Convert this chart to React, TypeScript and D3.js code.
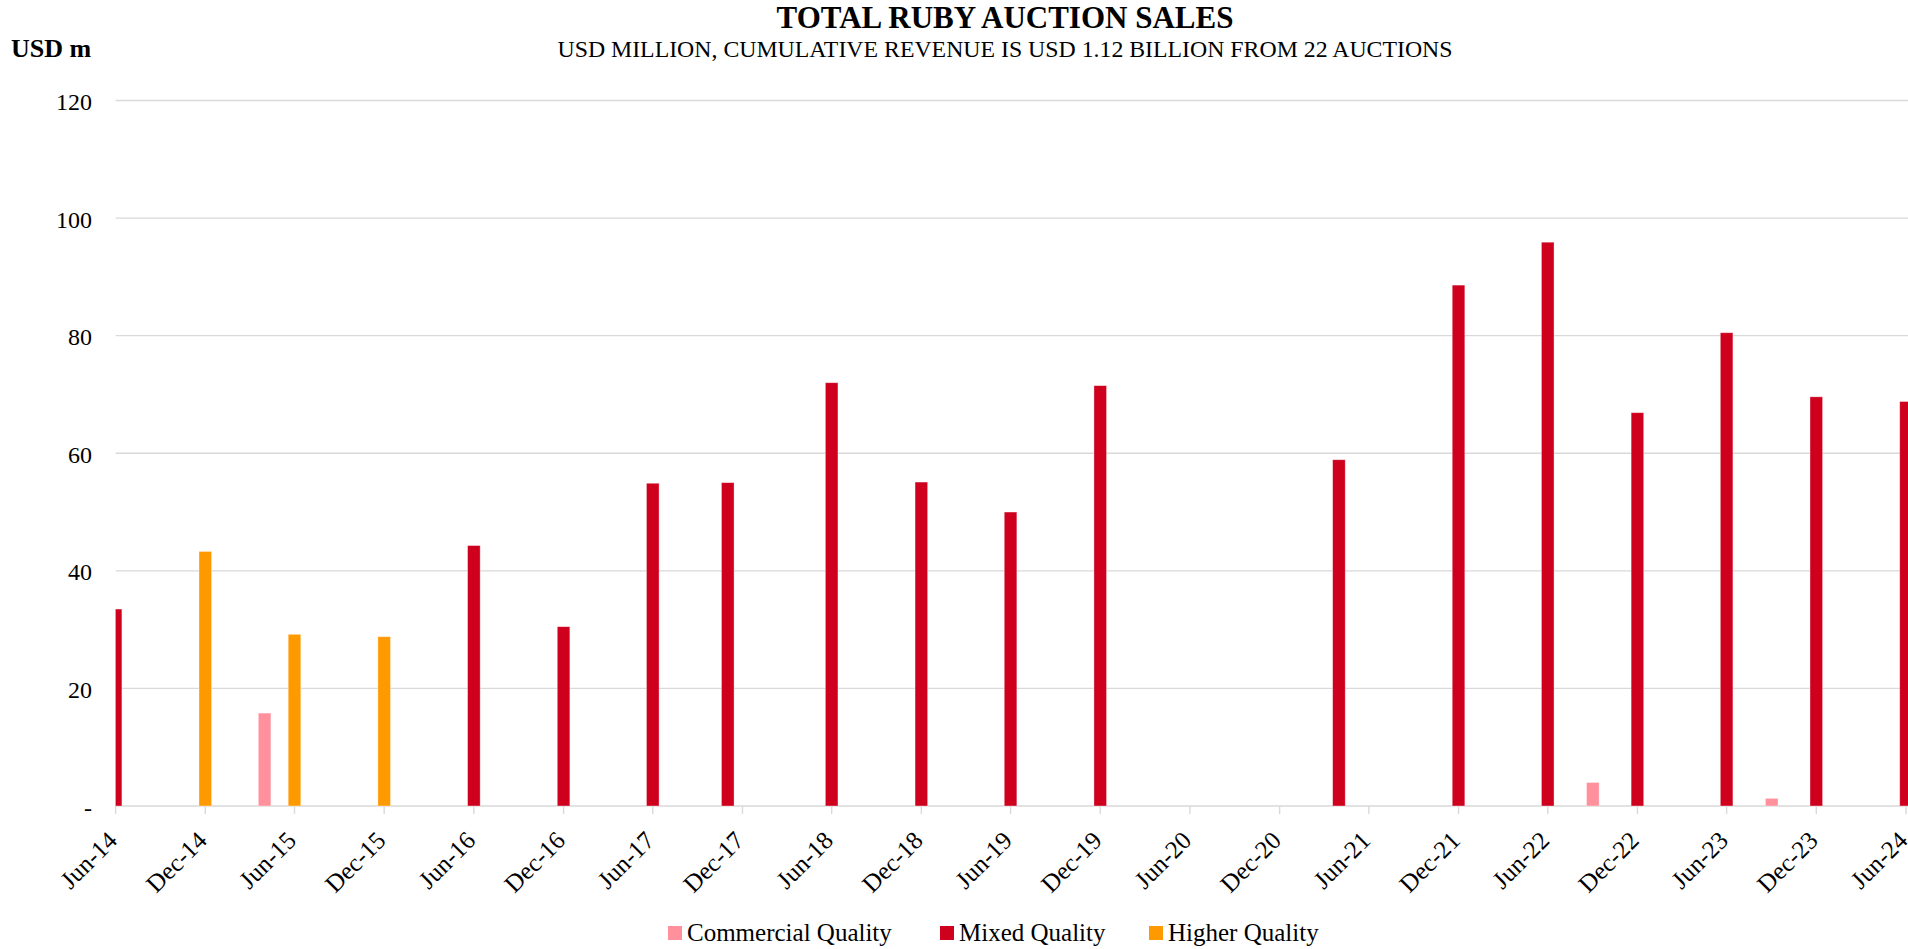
import React from "react";
import * as d3 from "d3";

// ---- data ----
const auctionDates = [
  "2014-06", "2014-12", "2015-04", "2015-06", "2015-12", "2016-06", "2016-12",
  "2017-06", "2017-11", "2018-06", "2018-12", "2019-06", "2019-12", "2021-04",
  "2021-12", "2022-06", "2022-09", "2022-12", "2023-06", "2023-09", "2023-12", "2024-06",
];
const auctionQuality = [
  "Mixed", "Higher", "Commercial", "Higher", "Higher", "Mixed", "Mixed",
  "Mixed", "Mixed", "Mixed", "Mixed", "Mixed", "Mixed", "Mixed",
  "Mixed", "Mixed", "Commercial", "Mixed", "Mixed", "Commercial", "Mixed", "Mixed",
];
const auctionValues = [
  33.5, 43.3, 15.8, 29.2, 28.8, 44.3, 30.5,
  54.9, 55.0, 72.0, 55.1, 50.0, 71.5, 58.9,
  88.6, 95.9, 4.0, 66.9, 80.5, 1.3, 69.6, 68.8,
];
const seriesNames = ["Commercial Quality", "Mixed Quality", "Higher Quality"];
const seriesKeys = ["Commercial", "Mixed", "Higher"];
const seriesColors = ["#FF909C", "#CE001E", "#FF9900"];
const yTicks = [0, 20, 40, 60, 80, 100, 120];
const axisStart = "2014-06";
const axisEnd = "2024-06";

const W = 1908;
const H = 949;
const FONT = "Liberation Serif, DejaVu Serif, serif";

export default function App() {
  const parse = d3.timeParse("%Y-%m");
  const t0 = parse(axisStart)!;
  const t1 = parse(axisEnd)!;
  const x = d3.scaleTime().domain([t0, t1]).range([115.6, 1906]);
  const y = d3.scaleLinear().domain([0, 120]).range([806, 100.5]);
  const color = d3.scaleOrdinal<string, string>().domain(seriesKeys).range(seriesColors);
  const xTicks = d3.timeMonth.range(t0, d3.timeMonth.offset(t1, 1), 6);
  const fmt = d3.timeFormat("%b-%y");
  const barW = 12.6;
  const legendX = [668, 940, 1149];

  return (
    <svg
      width={W}
      height={H}
      style={{ position: "absolute", left: 0, top: 0, background: "#fff", fontFamily: FONT }}
    >
      <defs>
        <clipPath id="plotClip">
          <rect x={115.6} y={0} width={W - 115.6} height={H} />
        </clipPath>
      </defs>
      {/* title */}
      <text x={1005} y={28} textAnchor="middle" fontSize={31} fontWeight="bold" fill="#000" style={{ fontFamily: FONT }}>
        TOTAL RUBY AUCTION SALES
      </text>
      <text x={1005} y={57} textAnchor="middle" fontSize={23.8} fill="#000" style={{ fontFamily: FONT }}>
        USD MILLION, CUMULATIVE REVENUE IS USD 1.12 BILLION FROM 22 AUCTIONS
      </text>
      <text x={11} y={57} fontSize={26} fontWeight="bold" fill="#000" style={{ fontFamily: FONT }}>
        USD m
      </text>

      {/* gridlines + y labels */}
      {yTicks.map((t) => (
        <g key={t}>
          <line x1={115.6} x2={W} y1={y(t)} y2={y(t)} stroke="#d9d9d9" strokeWidth={1.4} />
          <text x={92} y={y(t) + 9.5} textAnchor="end" fontSize={24} fill="#000" style={{ fontFamily: FONT }}>
            {t === 0 ? "-" : String(t)}
          </text>
        </g>
      ))}

      {/* x ticks and labels */}
      {xTicks.map((d, i) => (
        <g key={i}>
          <line x1={x(d)} x2={x(d)} y1={y(0)} y2={y(0) + 8} stroke="#d9d9d9" strokeWidth={1.4} />
          <text
            transform={`translate(${x(d) + 3},${842}) rotate(-45)`}
            textAnchor="end"
            fontSize={25}
            fill="#000"
            style={{ fontFamily: FONT }}
          >
            {fmt(d)}
          </text>
        </g>
      ))}

      {/* bars */}
      <g clipPath="url(#plotClip)">
        {auctionDates.map((ds, i) => {
          const cx = x(parse(ds)!);
          const v = auctionValues[i];
          return (
            <rect
              key={ds}
              x={cx - barW / 2}
              y={y(v)}
              width={barW}
              height={y(0) - y(v)}
              fill={color(auctionQuality[i])}
              stroke="#ffffff"
              strokeOpacity={0.45}
              strokeWidth={0.8}
            />
          );
        })}
      </g>

      {/* legend */}
      {seriesNames.map((n, i) => (
        <g key={n}>
          <rect x={legendX[i]} y={926} width={14} height={14} fill={seriesColors[i]} />
          <text x={legendX[i] + 19} y={941} fontSize={25} fill="#000" style={{ fontFamily: FONT }}>
            {n}
          </text>
        </g>
      ))}
    </svg>
  );
}
